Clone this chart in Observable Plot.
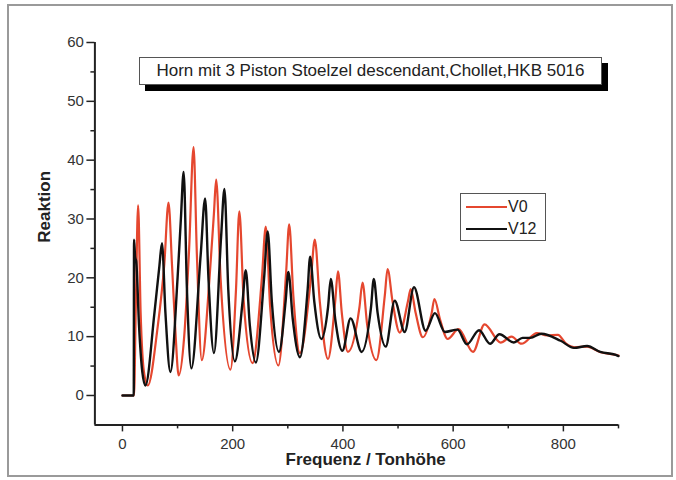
<!DOCTYPE html>
<html>
<head>
<meta charset="utf-8">
<script src="https://cdn.jsdelivr.net/npm/d3@7"></script>
<script src="https://cdn.jsdelivr.net/npm/@observablehq/plot@0.6"></script>
<style>
  html, body { margin: 0; padding: 0; background: #fff; }
  #wrap { position: relative; width: 676px; height: 480px; overflow: hidden; font-family: "Liberation Sans", Arial, sans-serif; }
  #frame { position: absolute; left: 7px; top: 4px; width: 666px; height: 473px; border: 2px solid #9a9a9a; box-sizing: border-box; pointer-events: none; }
  #title { position: absolute; left: 139px; top: 57px; width: 463px; height: 28px; border: 1.5px solid #555; box-sizing: border-box; background: #fff;
           box-shadow: 6px 6px 0 #000; font-size: 17px; line-height: 25px; text-align: center; color: #222; white-space: nowrap; }
  #legend { position: absolute; left: 460px; top: 193px; width: 86px; height: 48px; border: 1.5px solid #555; box-sizing: border-box; background: #fff; }
  .lg { position: absolute; left: 5px; width: 41px; height: 2px; }
  .lt { position: absolute; left: 47px; font-size: 16px; color: #222; line-height: 16px; }
</style>
</head>
<body>
<div id="wrap"></div>
<script>
// ---- data ----
const chartTitle = "Horn mit 3 Piston Stoelzel descendant,Chollet,HKB 5016";
const xLabel = "Frequenz / Tonhöhe";
const yLabel = "Reaktion";
const seriesNames = ["V0", "V12"];
const seriesColors = ["#e5472f", "#111111"];
const xTicks = [0, 200, 400, 600, 800];
const xMinorTicks = [100, 300, 500, 700, 900];
const yTicks = [0, 10, 20, 30, 40, 50, 60];
const yMinorTicks = [5, 15, 25, 35, 45, 55];

const v0X = [0, 21, 24, 28.4, 33, 39, 46, 63, 76, 83.5, 90, 96, 102, 112, 121, 129, 135, 144, 158, 166, 170, 178, 196, 206, 212, 220, 236, 253, 260, 268, 283, 297, 302.5, 310, 322, 342, 349, 358, 373, 386, 391, 398, 409, 430, 435.5, 444, 460.7, 476, 481, 490, 503, 518, 523, 532, 545, 561, 566, 576, 590, 610, 636, 657, 686, 706, 724, 752, 770, 790, 805, 820, 843, 866, 895, 900];
const v0Y = [0, 0, 14, 32.3, 14, 4, 1.7, 11, 22.4, 32.8, 22, 11, 3.4, 10, 25, 42.2, 24, 6, 20, 31, 36.7, 20, 4.4, 18, 31.3, 16, 5.5, 20, 28.7, 15, 5.1, 21, 29.1, 17, 7.2, 20, 26.5, 16, 6.2, 16, 21.1, 14, 7.4, 15, 19.2, 12, 6, 17, 21.5, 16, 10.7, 16, 18.1, 14, 9.9, 14, 16.4, 13, 9.6, 11.3, 7.4, 12.1, 9, 10, 8.8, 10.6, 10.2, 10.3, 8.8, 8.2, 8.3, 7.4, 6.9, 6.8];

const v12X = [0, 20.5, 21, 23, 25, 30, 36, 41.6, 58, 67, 71.7, 78, 87, 100, 106, 111, 117, 125, 142, 150, 156, 166, 179, 185, 192, 204, 218, 223.7, 231, 242, 257, 263.5, 271, 284, 296, 301, 309, 322, 336, 340.5, 348, 361, 373, 378, 386, 399, 414, 434, 451, 456, 463, 477.6, 494, 512, 529, 550, 567, 585, 608, 625, 647, 667, 684, 710, 726, 740, 760, 795, 819, 843, 867, 895, 900];
const v12Y = [0, 0, 26.5, 23.5, 22.8, 12, 4, 1.7, 14, 22, 25.9, 14, 4, 20, 30, 38, 18, 4.6, 24, 33.5, 20, 7.2, 27, 35.1, 18, 5.8, 16, 21.3, 12, 5.6, 20, 27.9, 16, 7.4, 16, 21, 13, 6.5, 18, 23.6, 16, 9.6, 15, 19.8, 13, 7.6, 13.1, 7.4, 15, 19.8, 14, 8.3, 16.1, 10.8, 18.4, 11, 14, 10.8, 11.2, 8.7, 11.1, 8.8, 10.4, 9, 9.8, 9.8, 10.5, 9.3, 8.1, 8.4, 7.4, 6.9, 6.7];

const v0 = v0X.map((x, i) => ({x, y: v0Y[i]}));
const v12 = v12X.map((x, i) => ({x, y: v12Y[i]}));

const axisColor = "#222";
const tickFont = 15;

const chart = Plot.plot({
  width: 676,
  height: 480,
  marginLeft: 94.4,
  marginRight: 58,
  marginTop: 42,
  marginBottom: 55.6,
  style: {fontFamily: "'Liberation Sans', Arial, sans-serif", background: "transparent", overflow: "visible"},
  x: {domain: [-50, 900]},
  y: {domain: [-5, 60]},
  marks: [
    Plot.axisX(xTicks, {tickSize: 7, tickPadding: 6, fontSize: tickFont, stroke: axisColor, strokeWidth: 1.5, fill: "#333", label: null}),
    Plot.axisX(xMinorTicks, {tickSize: 4, tickFormat: () => "", stroke: axisColor, strokeWidth: 1.5, label: null}),
    Plot.axisY(yTicks, {tickSize: 8, tickPadding: 3, fontSize: tickFont, stroke: axisColor, strokeWidth: 1.5, fill: "#333", label: null}),
    Plot.axisY(yMinorTicks, {tickSize: 4, tickFormat: () => "", stroke: axisColor, strokeWidth: 1.5, label: null}),
    Plot.ruleY([-5], {stroke: axisColor, strokeWidth: 2}),
    Plot.ruleX([-50], {stroke: axisColor, strokeWidth: 2}),
    Plot.line(v0, {x: "x", y: "y", stroke: seriesColors[0], strokeWidth: 2.2, curve: "monotone-x"}),
    Plot.line(v12, {x: "x", y: "y", stroke: seriesColors[1], strokeWidth: 2.4, curve: "monotone-x"}),
    Plot.text([xLabel], {frameAnchor: "bottom", dx: 9, dy: 40, fontSize: 17, fontWeight: "bold", fill: "#222"}),
    Plot.text([yLabel], {frameAnchor: "left", dx: -50, dy: 9, rotate: -90, fontSize: 17, fontWeight: "bold", fill: "#222"})
  ]
});

const wrap = document.getElementById("wrap");
chart.style.position = "absolute";
chart.style.left = "0px";
chart.style.top = "0px";
wrap.appendChild(chart);

const frame = document.createElement("div");
frame.id = "frame";
wrap.appendChild(frame);

const t = document.createElement("div");
t.id = "title";
t.textContent = chartTitle;
wrap.appendChild(t);

const lg = document.createElement("div");
lg.id = "legend";
seriesNames.forEach((name, i) => {
  const ln = document.createElement("div");
  ln.className = "lg";
  ln.style.top = (i === 0 ? 12 : 34) + "px";
  ln.style.background = seriesColors[i];
  lg.appendChild(ln);
  const tx = document.createElement("div");
  tx.className = "lt";
  tx.style.top = (i === 0 ? 5 : 27) + "px";
  tx.textContent = name;
  lg.appendChild(tx);
});
wrap.appendChild(lg);
</script>
</body>
</html>
